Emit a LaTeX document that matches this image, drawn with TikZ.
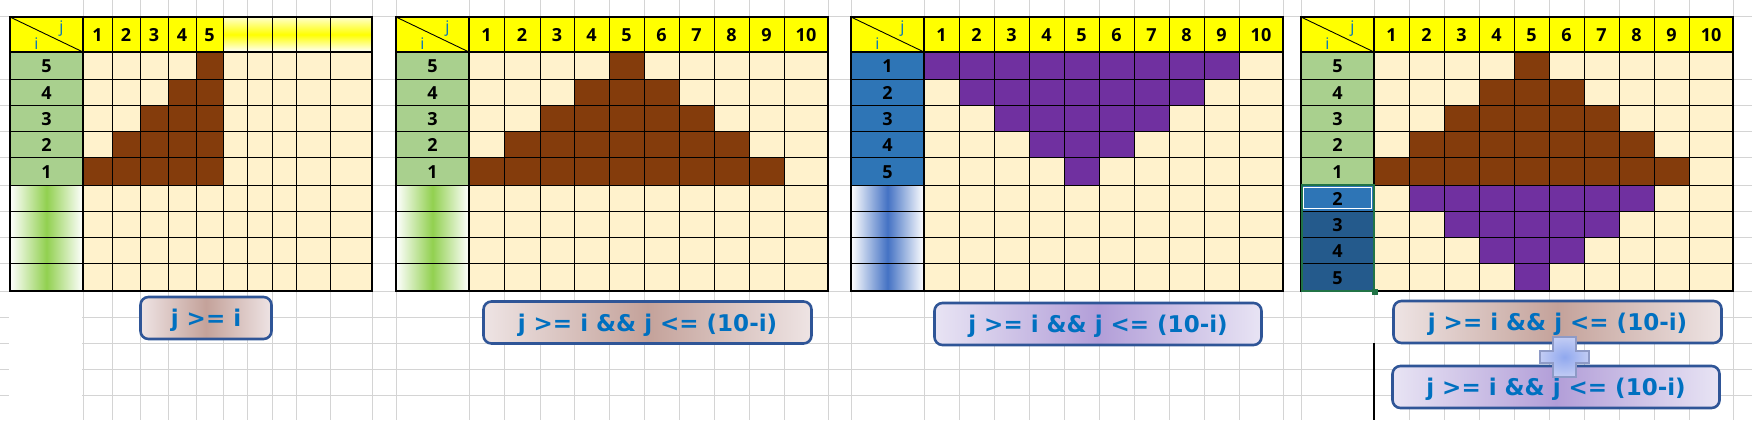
\documentclass[tikz,border=0pt]{standalone}
\usepackage{fontspec}
\setmainfont{Open Sans}
\newfontfamily\boxfont{DejaVu Sans}
\definecolor{cream}{HTML}{FFF2CC}
\definecolor{brownc}{HTML}{843C0C}
\definecolor{purplec}{HTML}{7030A0}
\definecolor{hdryellow}{HTML}{FFFF00}
\definecolor{labgreen}{HTML}{A9D08E}
\definecolor{labblue}{HTML}{2E75B6}
\definecolor{selblue}{HTML}{245A8C}
\definecolor{gradgreen}{HTML}{92D050}
\definecolor{gradblue}{HTML}{4472C4}
\definecolor{gridgray}{HTML}{D4D4D4}
\definecolor{txtblue}{HTML}{0070C0}
\definecolor{boxborder}{HTML}{2F5597}
\definecolor{rosemid}{HTML}{C4A29A}
\definecolor{roseedge}{HTML}{EEE4E4}
\definecolor{lilacmid}{HTML}{B29ED8}
\definecolor{lilacedge}{HTML}{E8E4F4}
\definecolor{selgreen}{HTML}{217346}
\definecolor{plusin}{HTML}{90A8EE}
\definecolor{plusout}{HTML}{C2CCF4}
\definecolor{plusedge}{HTML}{8E9AC6}

\def\YY{{17,52,79,105,131,157,185,211,237,263,291}}
\def\XA{{10,83,112,140,168,196,223,247,272,296,330,372}}
\def\XB{{396,469,504,540,574,609,644,679,714,749,784,828}}
\def\XC{{851,924,959,994,1029,1064,1099,1134,1169,1204,1239,1283}}
\def\XD{{1301,1374,1409,1444,1479,1514,1549,1584,1619,1654,1689,1733}}

% fill one body cell: array, row, column, colour
\newcommand\gcell[4]{%
  \pgfmathtruncatemacro\cnext{#3+1}\pgfmathtruncatemacro\rnext{#2+1}%
  \pgfmathsetmacro\xa{#1[#3]}\pgfmathsetmacro\xb{#1[\cnext]}%
  \pgfmathsetmacro\ya{\YY[#2]}\pgfmathsetmacro\yb{\YY[\rnext]}%
  \fill[#4] (\xa,\ya) rectangle (\xb,\yb);}

% background of a grid: array
\newcommand\gbase[1]{%
  \pgfmathsetmacro\gxl{#1[0]}\pgfmathsetmacro\gxm{#1[1]}\pgfmathsetmacro\gxr{#1[11]}%
  \fill[hdryellow] (\gxl,17) rectangle (\gxr,52);
  \fill[cream] (\gxm,52) rectangle (\gxr,291);}

% label column fill: array, first row, last row, style
\newcommand\glabfill[4]{%
  \pgfmathtruncatemacro\rnext{#3+1}%
  \pgfmathsetmacro\xa{#1[0]}\pgfmathsetmacro\xb{#1[1]}%
  \pgfmathsetmacro\ya{\YY[#2]}\pgfmathsetmacro\yb{\YY[\rnext]}%
  \path[#4] (\xa,\ya) rectangle (\xb,\yb);}

% lines of a grid: array
\newcommand\glines[1]{%
  \pgfmathsetmacro\gxl{#1[0]}\pgfmathsetmacro\gxm{#1[1]}\pgfmathsetmacro\gxr{#1[11]}%
  \foreach \k in {2,...,10}{\pgfmathsetmacro\xx{#1[\k]}\draw[thinln] (\xx,17) -- (\xx,291);}
  \foreach \k in {2,...,9}{\pgfmathsetmacro\yy{\YY[\k]}\draw[thinln] (\gxl,\yy) -- (\gxr,\yy);}
  \draw[thinln] (\gxl,17) -- (\gxm,52);
  \draw[thickln] (\gxl,52) -- (\gxr,52);
  \draw[thickln] (\gxm,17) -- (\gxm,291);
  \draw[thickln] (\gxl,17) rectangle (\gxr,291);}

% header numbers: array, prefix, last numbered column
\newcommand\ghead[3]{%
  \pgfmathsetmacro\gxl{#1[0]}%
  \node[ijtxt] (#2j) at (\gxl+51.5,33) {j};
  \node[ijtxt] (#2i) at (\gxl+26.5,49) {i};
  \foreach \c in {1,...,#3}{\pgfmathtruncatemacro\cnext{\c+1}%
    \pgfmathsetmacro\xa{#1[\c]}\pgfmathsetmacro\xb{#1[\cnext]}%
    \node[num] (#2h\c) at ({(\xa+\xb)/2},35.5) {\c};}}

% label number: array, prefix, row, text
\newcommand\glab[4]{%
  \pgfmathtruncatemacro\rnext{#3+1}%
  \pgfmathsetmacro\xa{#1[0]}\pgfmathsetmacro\xb{#1[1]}%
  \pgfmathsetmacro\ya{\YY[#3]}\pgfmathsetmacro\yb{\YY[\rnext]}%
  \node[num] (#2l#3) at ({(\xa+\xb)/2},{(\ya+\yb)/2+1}) {#4};}

\tikzset{
  thinln/.style={line width=0.9pt, black},
  thickln/.style={line width=2.4pt, black},
  gridln/.style={line width=1pt, gridgray},
  num/.style={font=\bfseries\fontsize{18}{18}\selectfont, text height=12.8pt, text depth=0pt, inner sep=0pt, anchor=center},
  ijtxt/.style={font=\fontsize{16}{16}\selectfont, text=txtblue, inner sep=0pt, anchor=base},
  fbox/.style={draw=boxborder, line width=2.6pt, rounded corners=8pt, inner sep=0pt, text=txtblue,
    font=\boxfont\bfseries\fontsize{23}{23}\selectfont, text height=17pt, text depth=0pt},
  rose/.style={left color=roseedge, right color=roseedge, middle color=rosemid},
  lilac/.style={left color=lilacedge, right color=lilacedge, middle color=lilacmid},
  greengrad/.style={left color=white, right color=white, middle color=gradgreen},
  bluegrad/.style={left color=white, right color=white, middle color=gradblue},
}

\begin{document}
\begin{tikzpicture}[x=1pt,y=-1pt]
\useasboundingbox (0,0) rectangle (1752,420);
\fill[white] (0,0) rectangle (1752,420);

% spreadsheet grid
\foreach \x in {83,112,140,168,196,223,247,272,296,330,372,396,469,504,540,574,609,644,679,714,749,784,828,851,924,959,994,1029,1064,1099,1134,1169,1204,1239,1283,1301,1374,1409,1444,1479,1514,1549,1584,1619,1654,1689,1733}
  \draw[gridln] (\x,0) -- (\x,420);
\foreach \y in {17,79,105,131,157,185,211,237,263,291,317,343,369,395}
  \draw[gridln] (0,\y) -- (1752,\y);
\fill[white] (9,292) rectangle (82.4,420);

% ---------- grid 1 ----------
\gbase{\XA}
\shade[top color=hdryellow!20, bottom color=white, middle color=hdryellow] (223,17) rectangle (372,52);
\glabfill{\XA}{1}{5}{fill=labgreen}
\glabfill{\XA}{6}{9}{greengrad}
\foreach \r in {1,...,5}{\pgfmathtruncatemacro\jlo{6-\r}
  \foreach \c in {\jlo,...,5}{\gcell{\XA}{\r}{\c}{brownc}}}
\glines{\XA}
\ghead{\XA}{a}{5}
\foreach \r/\t in {1/5,2/4,3/3,4/2,5/1}{\glab{\XA}{a}{\r}{\t}}

% ---------- grid 2 ----------
\gbase{\XB}
\glabfill{\XB}{1}{5}{fill=labgreen}
\glabfill{\XB}{6}{9}{greengrad}
\foreach \r in {1,...,5}{\pgfmathtruncatemacro\jlo{6-\r}\pgfmathtruncatemacro\jhi{10-\jlo}
  \foreach \c in {\jlo,...,\jhi}{\gcell{\XB}{\r}{\c}{brownc}}}
\glines{\XB}
\ghead{\XB}{b}{10}
\foreach \r/\t in {1/5,2/4,3/3,4/2,5/1}{\glab{\XB}{b}{\r}{\t}}

% ---------- grid 3 ----------
\gbase{\XC}
\glabfill{\XC}{1}{5}{fill=labblue}
\glabfill{\XC}{6}{9}{bluegrad}
\foreach \r in {1,...,5}{\pgfmathtruncatemacro\jhi{10-\r}
  \foreach \c in {\r,...,\jhi}{\gcell{\XC}{\r}{\c}{purplec}}}
\glines{\XC}
\ghead{\XC}{c}{10}
\foreach \r/\t in {1/1,2/2,3/3,4/4,5/5}{\glab{\XC}{c}{\r}{\t}}

% ---------- grid 4 ----------
\gbase{\XD}
\glabfill{\XD}{1}{5}{fill=labgreen}
\glabfill{\XD}{6}{6}{fill=labblue}
\glabfill{\XD}{7}{9}{fill=selblue}
\foreach \r in {1,...,5}{\pgfmathtruncatemacro\jlo{6-\r}\pgfmathtruncatemacro\jhi{10-\jlo}
  \foreach \c in {\jlo,...,\jhi}{\gcell{\XD}{\r}{\c}{brownc}}}
\foreach \r in {6,...,9}{\pgfmathtruncatemacro\jlo{\r-4}\pgfmathtruncatemacro\jhi{10-\jlo}
  \foreach \c in {\jlo,...,\jhi}{\gcell{\XD}{\r}{\c}{purplec}}}
\glines{\XD}
\draw[white, line width=0.8pt] (1303.5,187.5) rectangle (1371.5,208.5);
\draw[selgreen, line width=2pt] (1302,185) rectangle (1374,291);
\fill[selgreen] (1371.5,288.5) rectangle (1377.5,294.5);
\ghead{\XD}{d}{10}
\foreach \r/\t in {1/5,2/4,3/3,4/2,5/1,6/2,7/3,8/4,9/5}{\glab{\XD}{d}{\r}{\t}}
\draw[black, line width=1.5pt] (1374,343) -- (1374,420);

% ---------- formula boxes ----------
\node[fbox, rose, minimum width=131pt, minimum height=42pt] (b1) at (206,318) {j >= i};
\node[fbox, rose, minimum width=328pt, minimum height=42pt] (b2) at (647.5,322.5) {j >= i \&\& j <= (10-i)};
\node[fbox, lilac, minimum width=327pt, minimum height=42pt] (b3) at (1098,324) {j >= i \&\& j <= (10-i)};
\node[fbox, rose, minimum width=328pt, minimum height=42pt] (b4a) at (1557.5,322) {j >= i \&\& j <= (10-i)};
\node[fbox, lilac, minimum width=327pt, minimum height=42pt] (b4b) at (1556,387) {j >= i \&\& j <= (10-i)};

% plus sign between the two boxes
\path[draw=plusedge, line width=2.5pt, inner color=plusin, outer color=plusout]
  (1553,337) -- (1576,337) -- (1576,351) -- (1589,351) -- (1589,363) -- (1576,363)
  -- (1576,377) -- (1553,377) -- (1553,363) -- (1540,363) -- (1540,351) -- (1553,351) -- cycle;
\end{tikzpicture}
\end{document}
